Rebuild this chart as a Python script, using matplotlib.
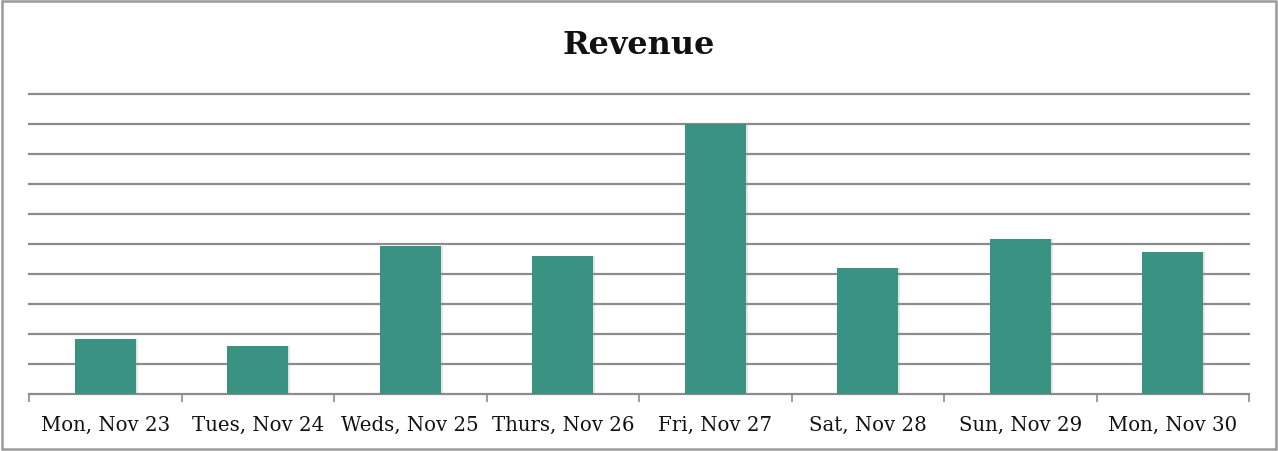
import matplotlib
matplotlib.use("Agg")
import matplotlib.pyplot as plt
from matplotlib.patches import Rectangle
import numpy as np

categories = ["Mon, Nov 23", "Tues, Nov 24", "Weds, Nov 25", "Thurs, Nov 26",
              "Fri, Nov 27", "Sat, Nov 28", "Sun, Nov 29", "Mon, Nov 30"]
revenue = [1.83, 1.6, 4.93, 4.6, 9.01, 4.2, 5.17, 4.74]
y_max = 10
y_step = 1

W, H = 1278, 452
fig = plt.figure(figsize=(W / 100, H / 100), dpi=100)
ax = fig.add_axes([29 / W, 57 / H, 1220 / W, 300 / H])

x = np.arange(len(categories))
ax.bar(x + 0.006, revenue, width=0.412, color="#9a9a9a", alpha=0.25, zorder=2)
ax.bar(x, revenue, width=0.4, color="#3a9282", zorder=3)

ax.set_xlim(-0.5, len(categories) - 0.5)
ax.set_ylim(0, y_max)
ax.set_yticks(np.arange(y_step, y_max + 0.01, y_step))
ax.yaxis.grid(True, color="#8c8c8c", linewidth=1.6, clip_on=False)
for gl in ax.get_ygridlines():
    gl.set_clip_on(False)
ax.set_axisbelow(True)
ax.tick_params(axis="y", left=False, labelleft=False)

for s in ["top", "right", "left"]:
    ax.spines[s].set_visible(False)
ax.spines["bottom"].set_color("#8c8c8c")
ax.spines["bottom"].set_linewidth(1.6)

ax.set_xticks(x)
ax.set_xticklabels(categories, family="DejaVu Serif", fontsize=14.2, color="#111111")
ax.tick_params(axis="x", length=0, pad=15)
ax.set_xticks(np.arange(-0.5, len(categories), 1), minor=True)
ax.tick_params(axis="x", which="minor", length=6, width=1.2, color="#8c8c8c", direction="out")

fig.text(0.5, 1 - 46 / H, "Revenue", ha="center", va="center",
         family="DejaVu Serif", fontweight="bold", fontsize=23, color="#111111")

fig.patches.append(Rectangle((2 / W, 2 / H), 1 - 4 / W, 1 - 4 / H, transform=fig.transFigure,
                             fill=False, edgecolor="#9a9a9a", linewidth=1.8))

fig.savefig("out.png", dpi=100)
